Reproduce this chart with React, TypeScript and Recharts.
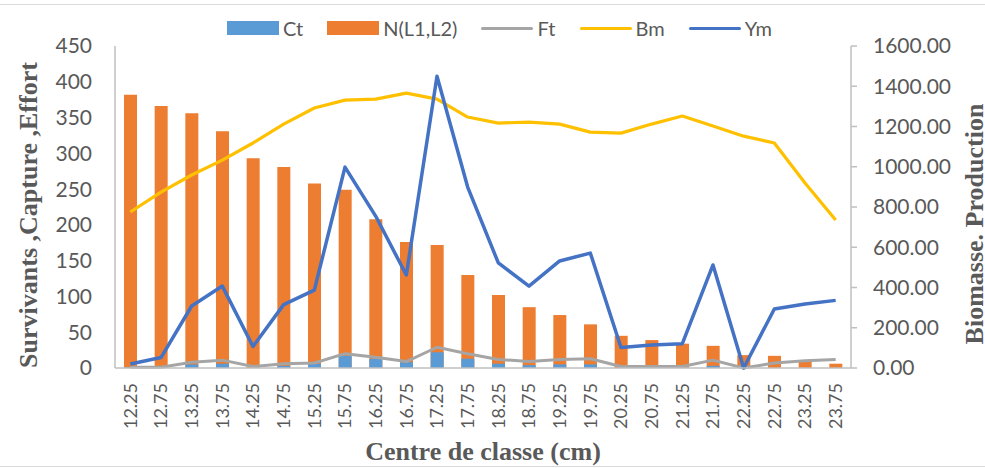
import React from 'react'
import {
  ComposedChart, Bar, Line, XAxis, YAxis, Legend,
} from 'recharts'

// classes de taille (cm)
const classes = [
  '12.25', '12.75', '13.25', '13.75', '14.25', '14.75', '15.25', '15.75',
  '16.25', '16.75', '17.25', '17.75', '18.25', '18.75', '19.25', '19.75',
  '20.25', '20.75', '21.25', '21.75', '22.25', '22.75', '23.25', '23.75',
]
const ct = [1, 1, 5, 6, 0, 3, 6, 17, 13, 8, 22, 13, 6, 4, 5, 5, 0, 0, 0, 3, 0, 0, 0, 0]
const survivants = [382, 366, 356, 331, 293, 281, 258, 249, 208, 176, 172, 130, 102, 85, 74, 61, 45, 39, 34, 31, 18, 17, 10, 6]
const effort = [1, 1, 8, 11, 2, 6, 7, 20, 15, 9, 29, 20, 12, 9, 12, 13, 2, 2, 2, 11, 0, 7, 10, 12]
const biomasse = [775, 874, 959, 1033, 1118, 1212, 1292, 1331, 1336, 1366, 1336, 1247, 1217, 1222, 1212, 1172, 1167, 1212, 1252, 1202, 1152, 1118, 919, 735]
const production = [20, 52, 308, 407, 107, 315, 387, 998, 755, 462, 1450, 899, 522, 407, 532, 571, 102, 114, 121, 512, 0, 293, 318, 336]

const leftTicks = [0, 50, 100, 150, 200, 250, 300, 350, 400, 450]
const rightTicks = [0, 200, 400, 600, 800, 1000, 1200, 1400, 1600]

const data = classes.map((c, i) => ({
  classe: c,
  ct: ct[i],
  n: survivants[i],
  ft: effort[i],
  bm: biomasse[i],
  ym: production[i],
}))

const legendItems = [
  { name: 'Ct', color: '#5B9BD5', type: 'rect' },
  { name: 'N(L1,L2)', color: '#ED7D31', type: 'rect' },
  { name: 'Ft', color: '#A5A5A5', type: 'line' },
  { name: 'Bm', color: '#FFC000', type: 'line' },
  { name: 'Ym', color: '#4472C4', type: 'line' },
]

const GREY = '#595959'
const AXIS = '#BFBFBF'
const titleStyle = { fontFamily: '"Liberation Serif", serif', fontWeight: 700, fontSize: 26, fill: GREY }

function LegendContent() {
  return (
    <div style={{ display: 'flex', alignItems: 'center', fontFamily: 'Lato', fontSize: 20, color: GREY, whiteSpace: 'nowrap' }}>
      {legendItems.map((it) => (
        <div key={it.name} style={{ display: 'flex', alignItems: 'center', marginRight: 24 }}>
          {it.type === 'rect'
            ? <span style={{ display: 'inline-block', width: 52, height: 14, background: it.color }} />
            : <span style={{ display: 'inline-block', width: 52, height: 3, background: it.color, borderRadius: 2 }} />}
          <span style={{ marginLeft: 4 }}>{it.name}</span>
        </div>
      ))}
    </div>
  )
}

function XTick({ x, y, payload }: any) {
  return (
    <text
      x={x}
      y={y}
      transform={`rotate(-90, ${x}, ${y})`}
      textAnchor="end"
      dy="0.36em"
      fill={GREY}
      fontFamily="Lato"
      fontSize={18}
    >
      {payload.value}
    </text>
  )
}

const leftTitle = () => (
  <text x={37} y={215} transform="rotate(-90, 37, 215)" textAnchor="middle" style={titleStyle}>
    Survivants ,Capture ,Effort
  </text>
)

const rightTitle = () => (
  <text x={983} y={224} transform="rotate(-90, 983, 224)" textAnchor="middle" style={titleStyle}>
    Biomasse. Production
  </text>
)

const xTitle = () => (
  <text x={483} y={460} textAnchor="middle" style={titleStyle}>
    Centre de classe (cm)
  </text>
)

export default function App() {
  return (
    <div style={{ position: 'absolute', top: 0, left: 0, width: 985, height: 468, background: '#fff' }}>
      <div style={{ position: 'absolute', top: 4, left: 0, width: 985, height: 1, background: '#D9D9D9' }} />
      <div style={{ position: 'absolute', top: 466, left: 0, width: 985, height: 1, background: '#D9D9D9' }} />
      <ComposedChart width={985} height={468} data={data} barGap={-13} margin={{ top: 46, right: 0, bottom: 0, left: 0 }}>
        <XAxis
          dataKey="classe"
          height={100}
          interval={0}
          tick={<XTick />}
          tickLine={false}
          tickSize={13}
          tickMargin={2}
          axisLine={{ stroke: AXIS, strokeWidth: 1.5 }}
          label={{ content: xTitle }}
        />
        <YAxis
          yAxisId="left"
          width={115}
          domain={[0, 450]}
          ticks={leftTicks}
          interval={0}
          tickLine={false}
          tickSize={21}
          tickMargin={2}
          axisLine={{ stroke: AXIS, strokeWidth: 1.5 }}
          tick={{ fill: GREY, fontSize: 21, fontFamily: 'Lato' }}
          label={{ content: leftTitle }}
        />
        <YAxis
          yAxisId="right"
          orientation="right"
          width={134}
          domain={[0, 1600]}
          ticks={rightTicks}
          interval={0}
          tickSize={6}
          tickMargin={16}
          tickLine={{ stroke: AXIS, strokeWidth: 1.5 }}
          axisLine={{ stroke: AXIS, strokeWidth: 1.5 }}
          tick={{ fill: GREY, fontSize: 21, fontFamily: 'Lato', textAnchor: 'start' }}
          tickFormatter={(v: number) => v.toFixed(2)}
          label={{ content: rightTitle }}
        />
        <Legend
          verticalAlign="middle"
          align="center"
          content={<LegendContent />}
          wrapperStyle={{ top: 16, left: 227, width: 'auto', height: 20 }}
        />
        <Bar yAxisId="left" dataKey="n" name="N(L1,L2)" fill="#ED7D31" barSize={13} isAnimationActive={false} />
        <Bar yAxisId="left" dataKey="ct" name="Ct" fill="#5B9BD5" barSize={13} isAnimationActive={false} />
        <Line yAxisId="left" dataKey="ft" name="Ft" stroke="#A5A5A5" strokeWidth={3} dot={false} strokeLinejoin="round" isAnimationActive={false} />
        <Line yAxisId="right" dataKey="bm" name="Bm" stroke="#FFC000" strokeWidth={3.2} dot={false} strokeLinejoin="round" isAnimationActive={false} />
        <Line yAxisId="right" dataKey="ym" name="Ym" stroke="#4472C4" strokeWidth={3.5} dot={false} strokeLinejoin="round" isAnimationActive={false} />
      </ComposedChart>
    </div>
  )
}
